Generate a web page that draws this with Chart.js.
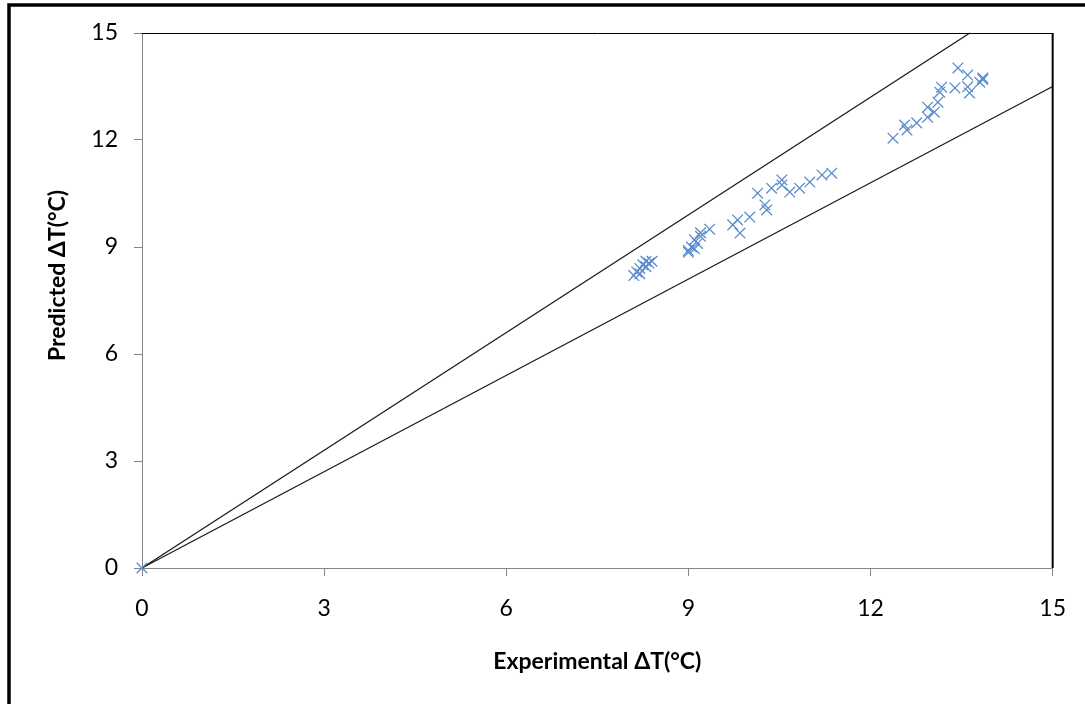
<!DOCTYPE html>
<html>
<head>
<meta charset="utf-8">
<title>Predicted vs Experimental ΔT</title>
<script src="https://cdn.jsdelivr.net/npm/chart.js@4/dist/chart.umd.min.js"></script>
<style>
  html, body { margin: 0; padding: 0; background: #ffffff; }
  #wrap { position: absolute; left: 0; top: 0; width: 1085px; height: 704px; }
</style>
</head>
<body>
<div id="wrap"><canvas id="c" width="1085" height="704"></canvas></div>
<script>
// Measured temperature rise (x) and model prediction (y), °C
const experimentalDT = [
  0,
  8.10, 8.15, 8.20, 8.25, 8.30, 8.35, 8.40, 8.20, 8.30,
  9.00, 9.05, 9.10, 9.15, 9.10, 9.20, 9.35, 9.00, 9.20,
  9.73, 9.85, 9.81, 10.01, 10.14, 10.26, 10.29, 10.37, 10.54, 10.54, 10.67, 10.83, 11.00, 11.20, 11.36,
  12.37, 12.56, 12.60, 12.76, 12.94, 12.94, 13.11, 13.14, 13.17, 13.05, 13.44, 13.60, 13.39, 13.60, 13.63, 13.85, 13.85, 13.80
];
const predictedDT = [
  0,
  8.20, 8.30, 8.40, 8.50, 8.60, 8.55, 8.60, 8.25, 8.45,
  8.90, 9.00, 8.95, 9.10, 9.20, 9.40, 9.50, 8.85, 9.30,
  9.62, 9.39, 9.76, 9.84, 10.51, 10.18, 10.04, 10.65, 10.88, 10.74, 10.54, 10.65, 10.82, 11.02, 11.07,
  12.05, 12.42, 12.28, 12.48, 12.92, 12.64, 13.06, 13.34, 13.48, 12.78, 14.02, 13.82, 13.46, 13.49, 13.32, 13.74, 13.70, 13.62
];

// +10% and -10% agreement bounds (end points)
const upperBoundX = [0, 13.636];
const upperBoundY = [0, 15];
const lowerBoundX = [0, 15];
const lowerBoundY = [0, 13.5];

const axisTicks = [0, 3, 6, 9, 12, 15];

const xTitle = 'Experimental ΔT(°C)';
const yTitle = 'Predicted ΔT(°C)';

const toPoints = (xs, ys) => xs.map((x, i) => ({ x: x, y: ys[i] }));

const FONT = 'Lato, Calibri, "Open Sans", sans-serif';
const TITLE_FONT = 'bold 23px ' + FONT;
const AXIS_GREY = '#868686';

// Frame lines: outer border (left/top), black top/right edges of the plot area,
// and the vertical axis title
const framePlugin = {
  id: 'frame',
  beforeDraw(chart) {
    const ctx = chart.ctx;
    ctx.save();
    ctx.fillStyle = '#ffffff';
    ctx.fillRect(0, 0, chart.width, chart.height);
    ctx.strokeStyle = '#000000';
    ctx.lineWidth = 3.5;
    ctx.beginPath();
    ctx.moveTo(9, chart.height);
    ctx.lineTo(9, 5);
    ctx.lineTo(chart.width, 5);
    ctx.stroke();
    ctx.restore();
  },
  afterDatasetsDraw(chart) {
    const a = chart.chartArea;
    const ctx = chart.ctx;
    ctx.save();
    ctx.strokeStyle = '#000000';
    ctx.lineWidth = 1;
    ctx.beginPath();
    ctx.moveTo(a.left, a.top + 0.5);
    ctx.lineTo(a.right, a.top + 0.5);
    ctx.stroke();
    ctx.lineWidth = 2;
    ctx.beginPath();
    ctx.moveTo(a.right, a.top);
    ctx.lineTo(a.right, a.bottom);
    ctx.stroke();
    ctx.restore();
  },
  afterDraw(chart) {
    const ctx = chart.ctx;
    const a = chart.chartArea;
    ctx.save();
    ctx.translate(58, (a.top + a.bottom) / 2 - 25);
    ctx.rotate(-Math.PI / 2);
    ctx.font = TITLE_FONT;
    ctx.fillStyle = '#000000';
    ctx.textAlign = 'center';
    ctx.textBaseline = 'middle';
    ctx.fillText(yTitle, 0, 0);
    ctx.restore();
  }
};

new Chart(document.getElementById('c'), {
  type: 'scatter',
  data: {
    datasets: [
      {
        label: 'Predicted',
        data: toPoints(experimentalDT, predictedDT),
        pointStyle: 'crossRot',
        pointRadius: 7.5,
        pointBorderWidth: 1.3,
        borderColor: '#5B8CCB',
        backgroundColor: '#5B8CCB',
        showLine: false,
        clip: false
      },
      {
        label: '+10%',
        data: toPoints(upperBoundX, upperBoundY),
        showLine: true,
        pointRadius: 0,
        borderColor: '#1a1a1a',
        borderWidth: 1.3,
        clip: false
      },
      {
        label: '-10%',
        data: toPoints(lowerBoundX, lowerBoundY),
        showLine: true,
        pointRadius: 0,
        borderColor: '#1a1a1a',
        borderWidth: 1.3,
        clip: false
      }
    ]
  },
  options: {
    responsive: false,
    animation: false,
    devicePixelRatio: 1,
    layout: { padding: { left: 0, top: 33, right: 32, bottom: 0 } },
    plugins: {
      legend: { display: false },
      tooltip: { enabled: false }
    },
    scales: {
      x: {
        type: 'linear',
        min: 0,
        max: 15,
        afterFit(scale) { scale.height = 136; },
        afterBuildTicks(scale) { scale.ticks = axisTicks.map(v => ({ value: v })); },
        ticks: {
          color: '#000000',
          font: { family: FONT, size: 23 },
          padding: 19,
          maxRotation: 0
        },
        grid: {
          drawOnChartArea: false,
          drawTicks: true,
          tickLength: 8,
          color: AXIS_GREY
        },
        border: { color: AXIS_GREY, width: 1 },
        title: {
          display: true,
          text: xTitle,
          color: '#000000',
          font: { family: FONT, size: 23, weight: 'bold' },
          padding: { top: 0, bottom: 29 }
        }
      },
      y: {
        type: 'linear',
        min: 0,
        max: 15,
        afterFit(scale) { scale.width = 142; },
        afterBuildTicks(scale) { scale.ticks = axisTicks.map(v => ({ value: v })); },
        ticks: {
          color: '#000000',
          font: { family: FONT, size: 23 },
          padding: 16
        },
        grid: {
          drawOnChartArea: false,
          drawTicks: true,
          tickLength: 8,
          color: AXIS_GREY
        },
        border: { color: AXIS_GREY, width: 1 },
        title: { display: false }
      }
    }
  },
  plugins: [framePlugin]
});
</script>
</body>
</html>
